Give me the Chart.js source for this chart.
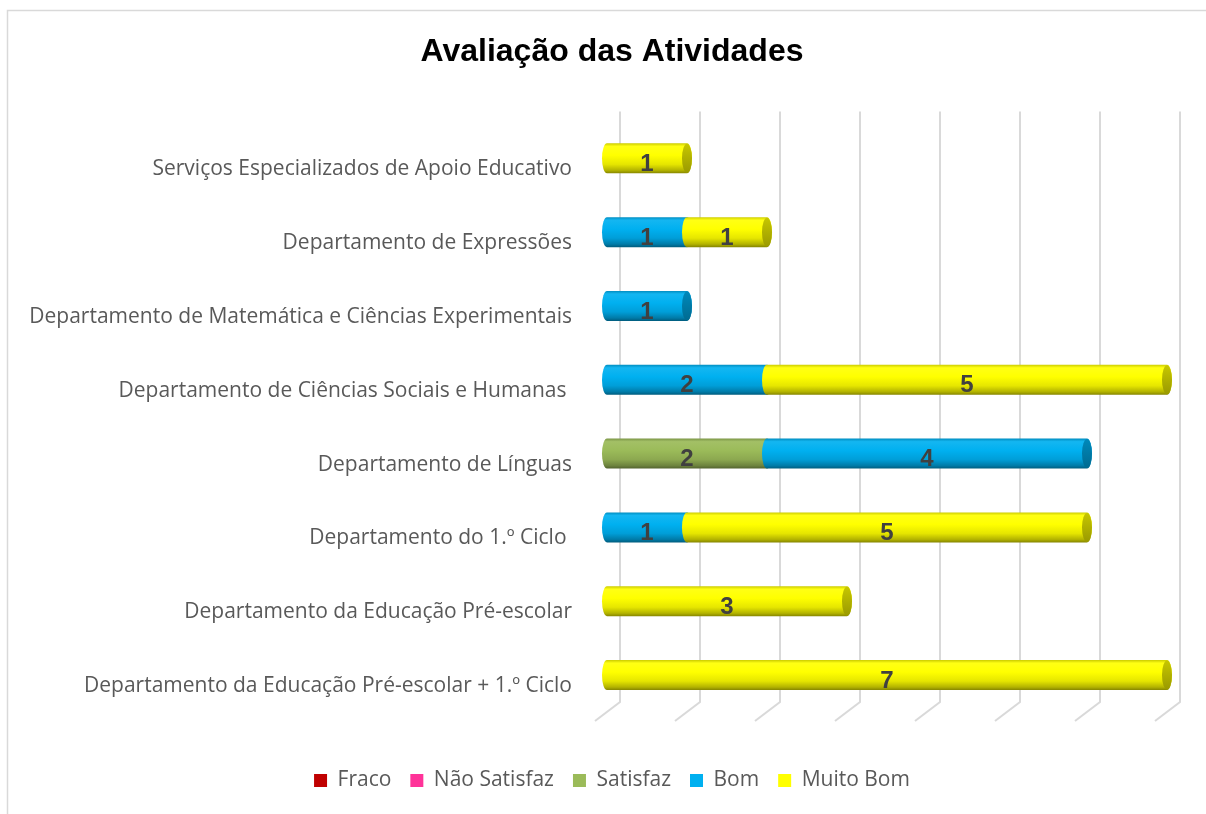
<!DOCTYPE html>
<html>
<head>
<meta charset="utf-8">
<script src="https://cdn.jsdelivr.net/npm/chart.js@4/dist/chart.umd.min.js"></script>
<style>
  html, body { margin: 0; padding: 0; background: #fff; }
  #wrap { width: 1206px; height: 814px; }
</style>
</head>
<body>
<div id="wrap"><canvas id="chart" width="1206" height="814"></canvas></div>
<script>
const categories = [
  'Serviços Especializados de Apoio Educativo',
  'Departamento de Expressões',
  'Departamento de Matemática e Ciências Experimentais',
  'Departamento de Ciências Sociais e Humanas ',
  'Departamento de Línguas',
  'Departamento do 1.º Ciclo ',
  'Departamento da Educação Pré-escolar',
  'Departamento da Educação Pré-escolar + 1.º Ciclo'
];
const fraco       = [0, 0, 0, 0, 0, 0, 0, 0];
const naoSatisfaz = [0, 0, 0, 0, 0, 0, 0, 0];
const satisfaz    = [0, 0, 0, 0, 2, 0, 0, 0];
const bom         = [0, 1, 1, 2, 4, 1, 0, 0];
const muitoBom    = [1, 1, 0, 5, 0, 5, 3, 7];
const axisMax = 7;

const colors = ['#C00000', '#FF3399', '#9BBB59', '#00B0F0', '#FFFF00'];
const labelFont = '"Open Sans", "Liberation Sans", sans-serif';

// lighten (f > 1) or darken (f < 1) a hex colour
function shade(hex, f) {
  const n = parseInt(hex.slice(1), 16);
  let c = [(n >> 16) & 255, (n >> 8) & 255, n & 255];
  c = c.map(v => f <= 1 ? Math.round(v * f) : Math.round(v + (255 - v) * (f - 1)));
  return 'rgb(' + c.join(',') + ')';
}

// frame, back gridlines, 3D floor and cylinder bars
const backdrop = {
  id: 'backdrop',
  beforeDraw(chart) {
    const ctx = chart.ctx;
    ctx.save();
    ctx.fillStyle = '#fff';
    ctx.fillRect(0, 0, chart.width, chart.height);
    ctx.strokeStyle = '#D9D9D9';
    ctx.lineWidth = 1.5;
    ctx.beginPath();
    ctx.moveTo(7.5, chart.height);
    ctx.lineTo(7.5, 10.5);
    ctx.lineTo(chart.width, 10.5);
    ctx.stroke();
    ctx.restore();
  },
  beforeDatasetsDraw(chart) {
    const ctx = chart.ctx, area = chart.chartArea, xs = chart.scales.x;
    ctx.save();
    ctx.strokeStyle = '#D9D9D9';
    ctx.lineWidth = 2;
    for (let v = 0; v <= axisMax; v++) {
      const x = Math.round(xs.getPixelForValue(v)) + 13;
      ctx.beginPath();
      ctx.moveTo(x, area.top - 10);
      ctx.lineTo(x, area.bottom - 10);
      ctx.lineTo(x - 25, area.bottom + 9);
      ctx.stroke();
    }
    ctx.restore();
  },
  beforeDatasetDraw() {
    return false;
  },
  afterDatasetsDraw(chart) {
    const ctx = chart.ctx;
    const n = chart.data.labels.length;
    const rx = 5;
    ctx.save();
    for (let j = 0; j < n; j++) {
      // last non-zero segment gets the dark end cap
      let last = -1;
      chart.data.datasets.forEach((ds, i) => { if (ds.data[j] > 0) last = i; });
      chart.data.datasets.forEach((ds, i) => {
        if (!(ds.data[j] > 0)) return;
        const el = chart.getDatasetMeta(i).data[j];
        const x0 = el.base, x1 = el.x, h = el.height, y0 = el.y - h / 2, y1 = el.y + h / 2;
        const col = colors[i];
        const g = ctx.createLinearGradient(0, y0, 0, y1);
        g.addColorStop(0, shade(col, 0.8));
        g.addColorStop(0.1, shade(col, 1.08));
        g.addColorStop(0.4, shade(col, 1.0));
        g.addColorStop(0.7, shade(col, 0.9));
        g.addColorStop(0.9, shade(col, 0.7));
        g.addColorStop(1, shade(col, 0.52));
        ctx.fillStyle = g;
        ctx.beginPath();
        ctx.ellipse(x0, el.y, rx, h / 2, 0, Math.PI / 2, Math.PI * 1.5);
        ctx.lineTo(x1, y0);
        ctx.ellipse(x1, el.y, rx, h / 2, 0, -Math.PI / 2, Math.PI / 2);
        ctx.closePath();
        ctx.fill();
        if (i === last) {
          const gc = ctx.createLinearGradient(0, y0, 0, y1);
          gc.addColorStop(0, shade(col, 0.78));
          gc.addColorStop(1, shade(col, 0.6));
          ctx.fillStyle = gc;
          ctx.beginPath();
          ctx.ellipse(x1, el.y, rx, h / 2 - 0.5, 0, 0, Math.PI * 2);
          ctx.fill();
        }
      });
      // value labels
      chart.data.datasets.forEach((ds, i) => {
        const v = ds.data[j];
        if (!(v > 0)) return;
        const el = chart.getDatasetMeta(i).data[j];
        ctx.fillStyle = '#404040';
        ctx.font = 'bold 24px "Liberation Sans", Arial, sans-serif';
        ctx.textAlign = 'center';
        ctx.textBaseline = 'middle';
        ctx.fillText(String(v), (el.base + el.x) / 2, el.y + 6);
      });
    }
    ctx.restore();
  }
};

new Chart(document.getElementById('chart'), {
  type: 'bar',
  data: {
    labels: categories,
    datasets: [
      { label: 'Fraco', data: fraco, backgroundColor: colors[0] },
      { label: 'Não Satisfaz', data: naoSatisfaz, backgroundColor: colors[1] },
      { label: 'Satisfaz', data: satisfaz, backgroundColor: colors[2] },
      { label: 'Bom', data: bom, backgroundColor: colors[3] },
      { label: 'Muito Bom', data: muitoBom, backgroundColor: colors[4] }
    ]
  },
  options: {
    indexAxis: 'y',
    responsive: false,
    animation: false,
    devicePixelRatio: 1,
    layout: { padding: { top: 10, left: 18, right: 0, bottom: 13 } },
    datasets: { bar: { barThickness: 30, borderWidth: 0 } },
    scales: {
      x: {
        stacked: true,
        min: 0,
        max: axisMax,
        ticks: { display: false, stepSize: 1 },
        grid: { display: false, drawTicks: false },
        border: { display: false },
        afterFit(scale) { scale.height = 39; }
      },
      y: {
        stacked: true,
        grid: { display: false, drawTicks: false },
        border: { display: false },
        ticks: {
          color: '#595959',
          padding: 35,
          labelOffset: 11,
          font: { family: labelFont, size: 21 }
        },
        afterFit(scale) { scale.width = 589; }
      },
      // empty right margin beside the plot
      yRight: {
        type: 'category',
        position: 'right',
        grid: { display: false, drawTicks: false },
        border: { display: false },
        ticks: { display: false },
        afterFit(scale) { scale.width = 39; }
      }
    },
    plugins: {
      title: {
        display: true,
        text: 'Avaliação das Atividades',
        color: '#000',
        font: { family: '"Liberation Sans", Arial, sans-serif', size: 32, weight: 'bold' },
        padding: { top: 23, bottom: 50 }
      },
      legend: {
        position: 'bottom',
        labels: {
          color: '#595959',
          boxWidth: 13,
          boxHeight: 13,
          padding: 19,
          font: { family: labelFont, size: 21 }
        }
      },
      tooltip: { enabled: false }
    }
  },
  plugins: [backdrop]
});
</script>
</body>
</html>
